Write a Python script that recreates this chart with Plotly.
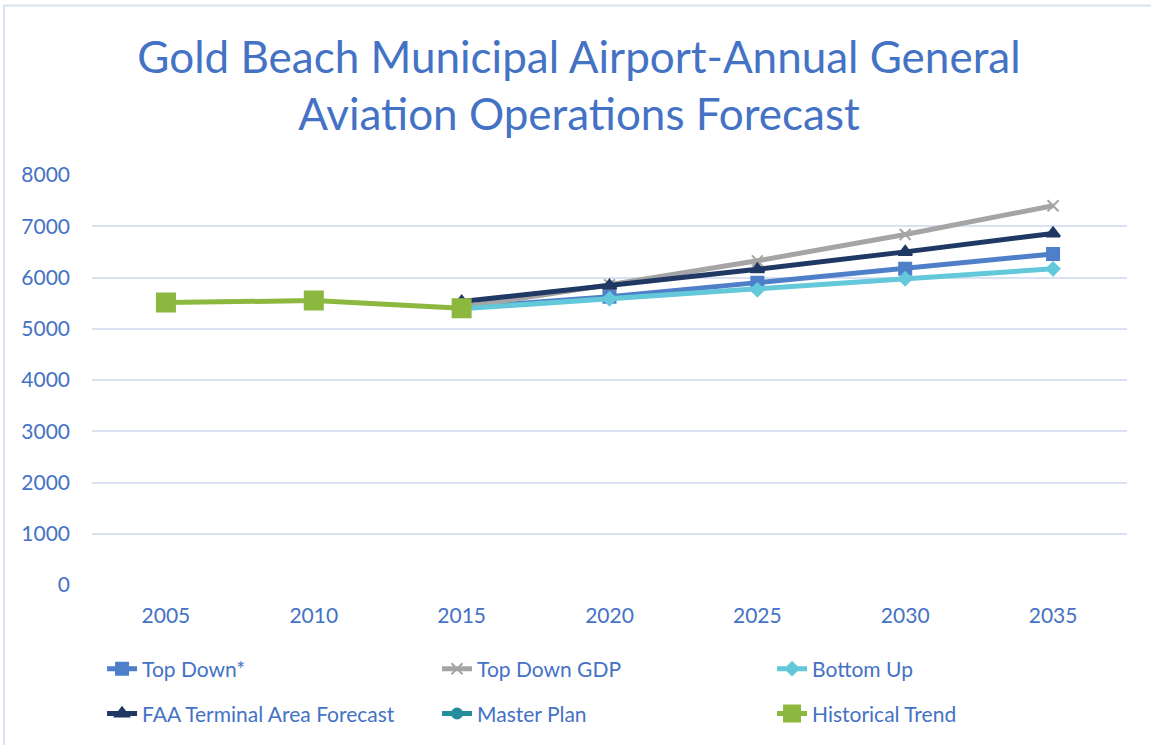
import plotly.graph_objects as go

years = ["2005", "2010", "2015", "2020", "2025", "2030", "2035"]
top_down = [None, None, 5410, 5625, 5900, 6170, 6460]
top_down_gdp = [None, None, 5420, 5860, 6325, 6840, 7400]
bottom_up = [None, None, 5390, 5585, 5760, 5975, 6170]
faa_taf = [None, None, 5530, 5840, 6160, 6500, 6860]
master_plan = [None, None, None, None, None, None, None]
historical = [5510, 5550, 5400, None, None, None, None]

FONT = "Lato"
TXT = "#4472C4"

series = [
    ("Top Down*", top_down, "#4E7FC8", "square", 12, "legend"),
    ("Top Down GDP", top_down_gdp, "#A5A5A5", "x-thin-open", 11, "legend"),
    ("Bottom Up", bottom_up, "#63C9DA", "diamond", 10, "legend"),
    ("FAA Terminal Area Forecast", faa_taf, "#203864", "triangle-up", 12, "legend2"),
    ("Master Plan", master_plan, "#258D9C", "circle", 10, "legend2"),
    ("Historical Trend", historical, "#8DB83F", "square", 18, "legend2"),
]

fig = go.Figure()
for name, vals, color, sym, size, lg in series:
    fig.add_trace(go.Scatter(
        x=years, y=vals, name=name, mode="lines+markers",
        line=dict(color=color, width=5),
        marker=dict(symbol=sym, size=size, color=color,
                    line=dict(color=color, width=2)),
        connectgaps=False, legend=lg,
    ))

legend_common = dict(orientation="h", x=0.0097, xanchor="left", yanchor="middle",
                     entrywidth=290, entrywidthmode="pixels",
                     font=dict(size=21, color=TXT), bgcolor="rgba(0,0,0,0)")

fig.update_layout(
    width=1151, height=745,
    margin=dict(l=92, r=24, t=175, b=159),
    paper_bgcolor="white", plot_bgcolor="white",
    font=dict(family=FONT, color=TXT, size=21),
    title=dict(text="Gold Beach Municipal Airport-Annual General<br>Aviation Operations Forecast",
               x=0.503, xanchor="center", y=(745 - 73) / 745, yanchor="middle",
               font=dict(family=FONT, size=44, color=TXT)),
    xaxis=dict(type="category", range=[-0.5, 6.5], showgrid=False, zeroline=False,
               showline=False, ticks="", tickfont=dict(size=21, color=TXT),
               ticklabelstandoff=16),
    yaxis=dict(range=[0, 8000], dtick=1000, showgrid=True, gridcolor="#D9E1F2",
               gridwidth=2, zeroline=False, showline=False, ticks="",
               tickfont=dict(size=21, color=TXT), ticklabelstandoff=21),
    legend=dict(y=-0.202, **legend_common),
    legend2=dict(y=-0.311, **legend_common),
    shapes=[dict(type="rect", xref="paper", yref="paper",
                 x0=-0.085, x1=1.03, y0=-0.42, y1=1.4136,
                 line=dict(color="#D9E1F2", width=2), layer="below")],
    showlegend=True,
)

fig.write_html("out.html", config={"displayModeBar": False},
               post_script="document.body.style.margin='0';")
